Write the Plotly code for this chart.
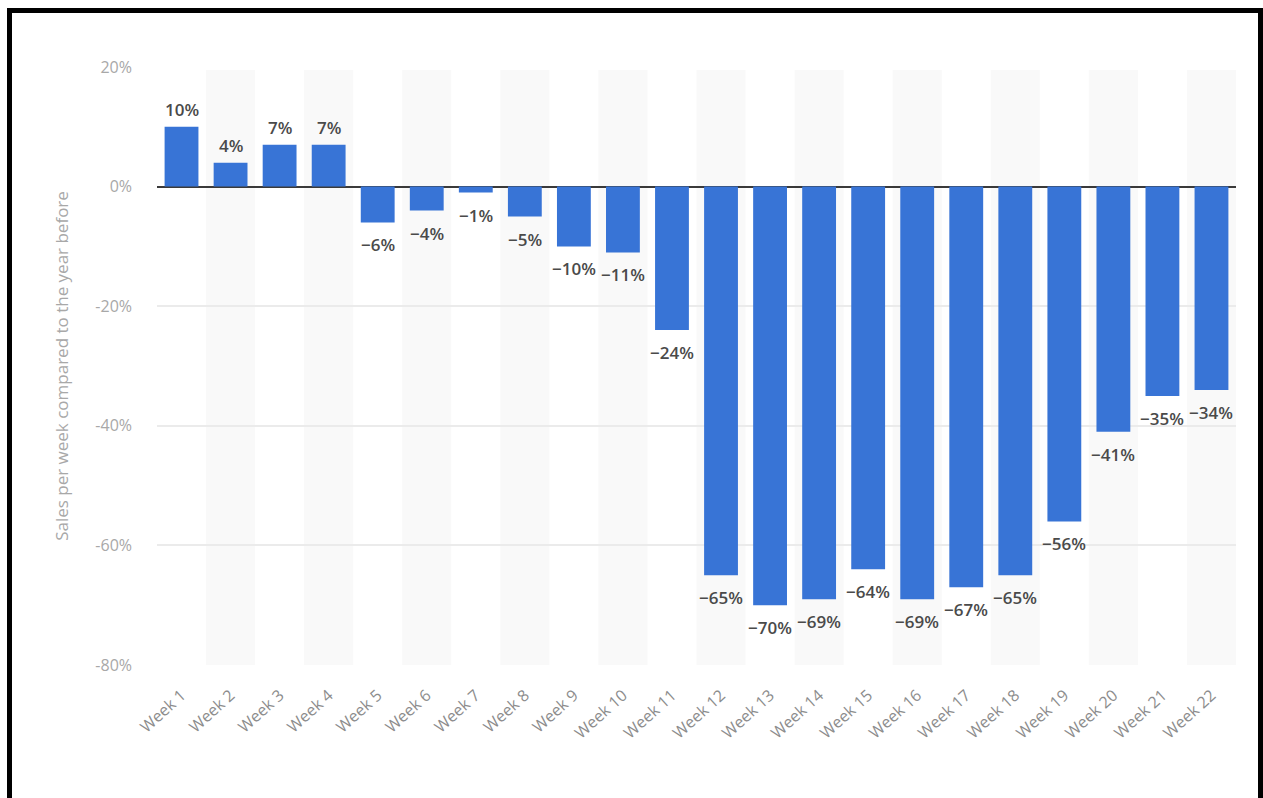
import plotly.graph_objects as go

weeks = [f"Week {i}" for i in range(1, 23)]
values = [10, 4, 7, 7, -6, -4, -1, -5, -10, -11, -24, -65, -70, -69, -64, -69, -67, -65, -56, -41, -35, -34]
y_ticks = [20, 0, -20, -40, -60, -80]
y_ticklabels = ["20%", "0%", "-20%", "-40%", "-60%", "-80%"]

W, H = 1263, 798
ML, MR, MT, MB = 157, 27, 67, 133
pw, ph = W - ML - MR, H - MT - MB

fig = go.Figure()
fig.add_trace(go.Bar(
    x=weeks, y=values,
    marker=dict(color="#3874d6", line=dict(width=0)),
    hoverinfo="skip",
))

annotations = []
for w, v in zip(weeks, values):
    label = f"{v}%" if v >= 0 else f"\u2212{abs(v)}%"
    annotations.append(dict(
        x=w, y=v, xref="x", yref="y", text=label, showarrow=False,
        yanchor="bottom" if v >= 0 else "top",
        yshift=4 if v >= 0 else -9,
        font=dict(family="Open Sans", size=17, color="#4a4a4a", weight=600),
    ))

shapes = []
for i, w in enumerate(weeks):
    if i % 2 == 1:
        shapes.append(dict(type="rect", xref="x", yref="paper", x0=i - 0.5, x1=i + 0.5,
                           y0=0, y1=0.995, fillcolor="#f9f9f9", line=dict(width=0), layer="below"))

def px2x(p):
    return (p - ML) / pw
def py2y(p):
    return (H - MB - p) / ph
shapes.append(dict(type="rect", xref="paper", yref="paper",
                   x0=px2x(9.5), x1=px2x(1260.5), y0=py2y(10.5), y1=py2y(860),
                   line=dict(color="black", width=5), fillcolor="rgba(0,0,0,0)", layer="above"))

fig.update_layout(
    width=W, height=H,
    margin=dict(l=ML, r=MR, t=MT, b=MB, pad=0),
    paper_bgcolor="white", plot_bgcolor="white",
    shapes=shapes, annotations=annotations, showlegend=False, bargap=0.31,
    font=dict(family="Open Sans", color="#999999"),
)
fig.update_xaxes(
    type="category", tickangle=-42, tickfont=dict(size=16, color="#8c8c8c"),
    showgrid=False, showline=False, ticks="", ticklabelstandoff=17,
)
fig.update_yaxes(
    range=[-80, 20], tickvals=y_ticks, ticktext=y_ticklabels,
    tickfont=dict(size=16, color="#a8a8a8"),
    showgrid=True, gridcolor="#ebebeb", gridwidth=1.5,
    zeroline=True, zerolinecolor="#3a3a3a", zerolinewidth=2,
    ticks="", ticklabelstandoff=24,
    title=dict(text="Sales per week compared to the year before",
               font=dict(size=17, color="#a8a8a8"), standoff=22),
)
fig.write_html("out.html")
